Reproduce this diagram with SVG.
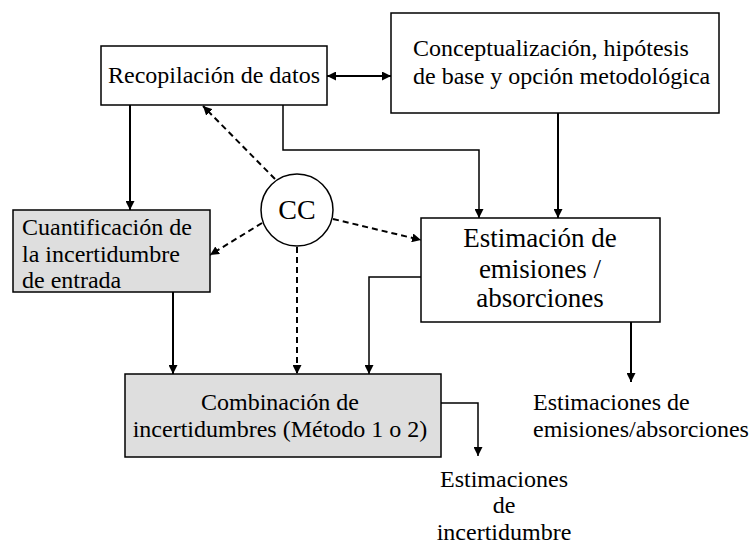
<svg xmlns="http://www.w3.org/2000/svg" width="751" height="545" viewBox="0 0 751 545">
<defs>
<marker id="ah" viewBox="0 0 10 10" refX="10" refY="5" markerWidth="9" markerHeight="9" markerUnits="userSpaceOnUse" orient="auto-start-reverse">
<path d="M0,0 L10,5 L0,10 z" fill="#000"/>
</marker>
<style>
text{font-family:'Liberation Serif','DejaVu Serif','Times New Roman',serif;font-size:24px;fill:#000}
.box{fill:#fff;stroke:#000;stroke-width:1.5}
.gray{fill:#dedede;stroke:#000;stroke-width:1.5}
.c{fill:none;stroke:#000;stroke-width:2}
.thin{fill:none;stroke:#000;stroke-width:1.5}
.d{fill:none;stroke:#000;stroke-width:2;stroke-dasharray:6 4}
.mid{text-anchor:middle}
</style>
</defs>
<g id="connectors">
<line class="c" x1="327" y1="76" x2="391" y2="76" marker-start="url(#ah)" marker-end="url(#ah)"/>
<line class="c" x1="130" y1="105" x2="130" y2="210" marker-end="url(#ah)"/>
<polyline class="thin" points="283,105 283,150 479,150 479,218" marker-end="url(#ah)"/>
<line class="c" x1="558" y1="113" x2="558" y2="218" marker-end="url(#ah)"/>
<polyline class="thin" points="421,277 369,277 369,374" marker-end="url(#ah)"/>
<line class="c" x1="173" y1="292" x2="173" y2="374" marker-end="url(#ah)"/>
<line class="c" x1="631" y1="322" x2="631" y2="382" marker-end="url(#ah)"/>
<polyline class="thin" points="438,403 478,403 478,456" marker-end="url(#ah)"/>
<line class="d" x1="275" y1="179" x2="203" y2="106" marker-end="url(#ah)"/>
<line class="d" x1="262" y1="223" x2="210" y2="255" marker-end="url(#ah)"/>
<line class="d" x1="333" y1="219" x2="421" y2="240" marker-end="url(#ah)"/>
<line class="d" x1="297" y1="247" x2="297" y2="374" marker-end="url(#ah)"/>
</g>
<g id="recopilacion">
<rect class="box" x="101" y="46" width="226" height="59"/>
<text x="214" y="83" class="mid">Recopilación de datos</text>
</g>
<g id="conceptualizacion">
<rect class="box" x="391" y="13" width="328" height="100"/>
<text x="413" y="56">Conceptualización, hipótesis</text>
<text x="413" y="84">de base y opción metodológica</text>
</g>
<g id="cuantificacion">
<rect class="gray" x="13" y="210" width="197" height="82"/>
<text x="22" y="235">Cuantificación de</text>
<text x="22" y="262">la incertidumbre</text>
<text x="22" y="288">de entrada</text>
</g>
<g id="cc">
<circle cx="297" cy="210" r="36" fill="#fff" stroke="#000" stroke-width="1.5"/>
<text x="297" y="219" class="mid" style="font-size:28px">CC</text>
</g>
<g id="estimacion">
<rect class="box" x="421" y="218" width="239" height="104"/>
<text x="540" y="247" class="mid" style="font-size:27px">Estimación de</text>
<text x="540" y="278" class="mid" style="font-size:27px">emisiones /</text>
<text x="540" y="307" class="mid" style="font-size:27px">absorciones</text>
</g>
<g id="combinacion">
<rect class="gray" x="125" y="374" width="316" height="83"/>
<text x="280" y="410" class="mid">Combinación de</text>
<text x="280" y="437" class="mid">incertidumbres (Método 1 o 2)</text>
</g>
<g id="out-emisiones">
<text x="533" y="410">Estimaciones de</text>
<text x="533" y="437">emisiones/absorciones</text>
</g>
<g id="out-incertidumbre">
<text x="504" y="487" class="mid">Estimaciones</text>
<text x="504" y="513" class="mid">de</text>
<text x="504" y="540" class="mid">incertidumbre</text>
</g>
</svg>
